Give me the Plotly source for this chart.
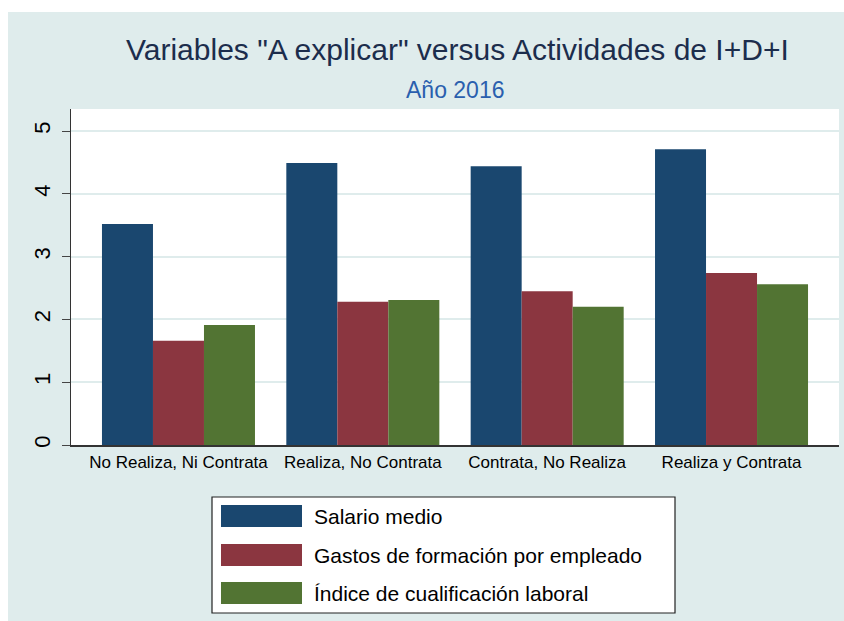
import plotly.graph_objects as go

categories = ["No Realiza, Ni Contrata", "Realiza, No Contrata", "Contrata, No Realiza", "Realiza y Contrata"]
series_names = ["Salario medio", "Gastos de formación por empleado", "Índice de cualificación laboral"]
salario = [3.52, 4.49, 4.44, 4.71]
gastos = [1.66, 2.28, 2.45, 2.74]
indice = [1.91, 2.31, 2.20, 2.56]
y_ticks = [0, 1, 2, 3, 4, 5]
colors = ["#1A476F", "#8B3640", "#527433"]

W, H = 844, 621
ML, MR, MT, MB = 71, 5, 109, 176
PW, PH = W - ML - MR, H - MT - MB
FONT = "Liberation Sans, Arial, sans-serif"
TEAL = "#DFECEC"


def px(x):  # screenshot x -> paper
    return (x - ML) / PW


def py(y):  # screenshot y -> paper
    return (H - MB - y) / PH


fig = go.Figure()
xpos = list(range(len(categories)))
for name, vals, col in zip(series_names, [salario, gastos, indice], colors):
    fig.add_trace(go.Bar(x=xpos, y=vals, name=name, marker=dict(color=col, line=dict(width=0)),
                         showlegend=False, hoverinfo="skip"))

shapes = [
    dict(type="rect", xref="paper", yref="paper", x0=px(-5), x1=px(W + 5), y0=py(12), y1=py(-5),
         fillcolor="white", line=dict(width=0), layer="below"),
    dict(type="rect", xref="paper", yref="paper", x0=px(-5), x1=px(8), y0=py(H + 5), y1=py(-5),
         fillcolor="white", line=dict(width=0), layer="below"),
    dict(type="rect", xref="paper", yref="paper", x0=px(212), x1=px(675), y0=py(613), y1=py(497),
         fillcolor="white", line=dict(color="#222222", width=1.2)),
]
annotations = [
    dict(text='Variables "A explicar" versus Actividades de I+D+I', xref="paper", yref="paper",
         x=px(457), y=py(50), xanchor="center", yanchor="middle", showarrow=False,
         font=dict(family=FONT, size=30, color="#1C2D4C")),
    dict(text="Año 2016", xref="paper", yref="paper", x=px(455), y=py(90), xanchor="center",
         yanchor="middle", showarrow=False, font=dict(family=FONT, size=23, color="#2A5FAE")),
]
rows_y = [516, 555, 593]
for name, col, ry in zip(series_names, colors, rows_y):
    shapes.append(dict(type="rect", xref="paper", yref="paper", x0=px(221), x1=px(302),
                       y0=py(ry + 11), y1=py(ry - 11), fillcolor=col, line=dict(width=0)))
    annotations.append(dict(text=name, xref="paper", yref="paper", x=px(312), y=py(ry),
                            xanchor="left", yanchor="middle", showarrow=False,
                            font=dict(family=FONT, size=21, color="black")))

fig.update_layout(
    width=W, height=H, margin=dict(l=ML, r=MR, t=MT, b=MB),
    paper_bgcolor=TEAL, plot_bgcolor="white",
    barmode="group", bargap=0.17, bargroupgap=0,
    font=dict(family=FONT, color="black"),
    shapes=shapes, annotations=annotations, showlegend=False,
)
fig.update_xaxes(range=[-0.583, 3.583], tickvals=xpos, ticktext=categories, showgrid=False,
                 zeroline=False, showline=True, linecolor="#333333", linewidth=1.5,
                 ticks="", ticklabelstandoff=1, tickfont=dict(size=17, color="black"))
fig.update_yaxes(range=[0, PH / 62.8], tickvals=y_ticks, ticktext=[str(v) for v in y_ticks],
                 showgrid=True, gridcolor=TEAL, gridwidth=2, zeroline=False,
                 showline=True, linecolor="#333333", linewidth=1, ticks="outside", ticklen=8,
                 tickcolor="#444444", tickangle=-90, ticklabelstandoff=3,
                 tickfont=dict(size=22, color="black"))

fig.write_html("out.html", config={"displayModeBar": False, "staticPlot": True},
               post_script="document.body.style.margin='0';document.body.style.overflow='hidden';")
